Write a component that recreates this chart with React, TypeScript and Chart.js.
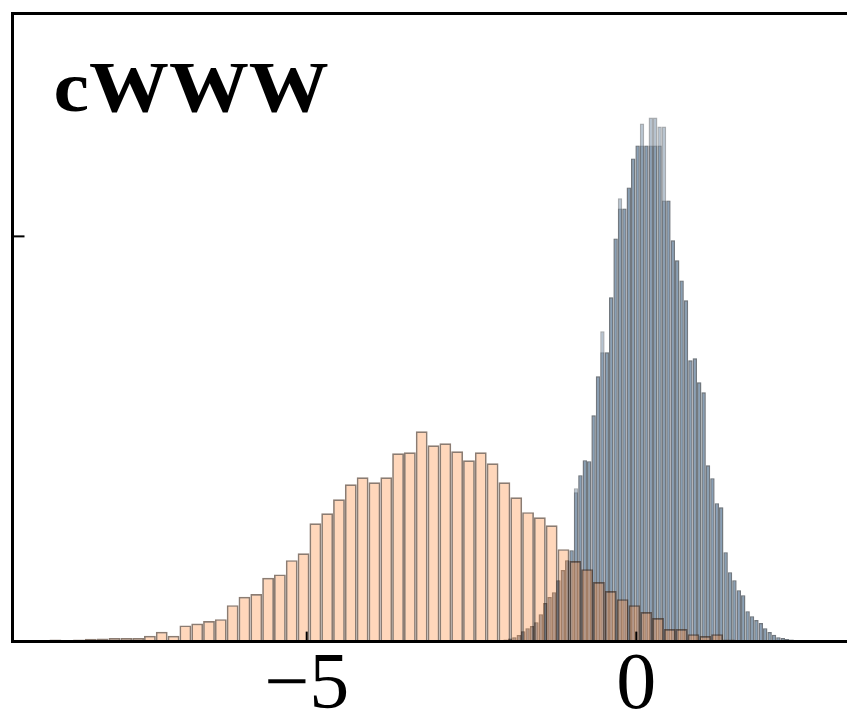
import { useEffect, useRef } from 'react';
import { Chart, registerables } from 'chart.js';

Chart.register(...registerables);

// Panel label and axis setup
const panelLabel = 'cWWW';
const xTickValues = [-5, 0];
const yTickValues = [0.5];
const xMin = -9.463;
const xMax = 3.196;
const yMax = 0.775;

// Wide distribution (density histogram)
const orangeFirstEdge = -8.902;
const orangeBinWidth = 0.17925;
const orangeDensity = [
  0.0027, 0.0018, 0.0027, 0.0035, 0.0039, 0.0043, 0.0043, 0.0043,
  0.0072, 0.0121, 0.0072, 0.02, 0.0224, 0.0253, 0.0277, 0.045,
  0.0552, 0.0586, 0.0787, 0.0829, 0.1005, 0.1091, 0.1461, 0.1584,
  0.1757, 0.1942, 0.2028, 0.1967, 0.2028, 0.2324, 0.2337, 0.2596,
  0.2423, 0.2448, 0.2349, 0.2238, 0.2337, 0.2201, 0.1967, 0.1782,
  0.1597, 0.1535, 0.1436, 0.1141, 0.0993, 0.0894, 0.0734, 0.0623,
  0.0524, 0.045, 0.0364, 0.029, 0.0154, 0.0154, 0.0092, 0.0068,
  0.0092, 0.0025,
];

// Narrow distribution, two samples on a shared binning
const blueFirstEdge = -2.083;
const blueBinWidth = 0.06675;
const blueDensityA = [
  0.0018, 0.0025, 0.0037, 0.0055, 0.008, 0.0129, 0.0166, 0.0191, 0.024,
  0.0339, 0.0475, 0.0549, 0.061, 0.0758, 0.0882, 0.1005, 0.1128,
  0.1893, 0.2053, 0.2238, 0.2226, 0.2793, 0.3274, 0.3829, 0.357, 0.4248,
  0.4975, 0.5345, 0.5345, 0.5604, 0.5962, 0.6122,
  0.6393, 0.6122, 0.6467, 0.6122, 0.6122, 0.5444,
  0.5444, 0.4951, 0.4704, 0.4457, 0.4211, 0.3471, 0.3496, 0.32, 0.3076,
  0.2176, 0.2016, 0.1708, 0.1658,
  0.1104, 0.0857, 0.0758, 0.0635, 0.0573, 0.0376, 0.0314, 0.0265, 0.0228,
  0.0166, 0.0117, 0.0086, 0.0055, 0.0043, 0.0031, 0.0025, 0.0021, 0.0018,
  0.0016, 0.0014, 0.0011, 0.001, 0.0009,
];
const blueDensityB = [
  0.0018, 0.0025, 0.0037, 0.0055, 0.008, 0.0129, 0.0166, 0.0191, 0.024,
  0.0339, 0.0475, 0.0549, 0.061, 0.0758, 0.0882, 0.1005, 0.1128,
  0.1843, 0.2053, 0.2238, 0.2226, 0.2793, 0.3274, 0.357, 0.357, 0.4248,
  0.4975, 0.5469, 0.5345, 0.5604, 0.5962, 0.6122,
  0.6122, 0.6122, 0.6122, 0.6467, 0.6356, 0.6356,
  0.5444, 0.4951, 0.4704, 0.4457, 0.4211, 0.3471, 0.3496, 0.32, 0.3076,
  0.2176, 0.2016, 0.1708, 0.1658,
  0.1104, 0.0857, 0.0758, 0.0635, 0.0573, 0.0376, 0.0314, 0.0265, 0.0228,
  0.0166, 0.0117, 0.0086, 0.0055, 0.0043, 0.0031, 0.0025, 0.0021, 0.0018,
  0.0016, 0.0014, 0.0011, 0.001, 0.0009,
];

const toBars = (firstEdge: number, width: number, values: number[]) =>
  values.map((y, i) => ({ x: firstEdge + width * (i + 0.5), y }));

const formatTick = (v: number) => (v < 0 ? '\u2212' + Math.abs(v) : String(v));

// Frame, inward tick marks and the panel label
const framePlugin = {
  id: 'frame',
  afterDatasetsDraw(chart: any) {
    const { ctx, chartArea } = chart;
    const xs = chart.scales.x;
    const ys = chart.scales.y;
    ctx.save();
    ctx.strokeStyle = '#000';
    ctx.lineCap = 'butt';

    ctx.lineWidth = 2;
    xTickValues.forEach((v) => {
      const px = xs.getPixelForValue(v);
      ctx.beginPath();
      ctx.moveTo(px, chartArea.bottom);
      ctx.lineTo(px, chartArea.bottom - 10);
      ctx.stroke();
    });
    yTickValues.forEach((v) => {
      const py = ys.getPixelForValue(v);
      ctx.beginPath();
      ctx.moveTo(chartArea.left, py);
      ctx.lineTo(chartArea.left + 12, py);
      ctx.stroke();
    });

    ctx.lineWidth = 3;
    ctx.beginPath();
    ctx.moveTo(chart.width + 2, chartArea.top);
    ctx.lineTo(chartArea.left, chartArea.top);
    ctx.lineTo(chartArea.left, chartArea.bottom);
    ctx.lineTo(chart.width + 2, chartArea.bottom);
    ctx.stroke();

    ctx.fillStyle = '#000';
    ctx.font = 'bold 72px "Liberation Serif"';
    ctx.textBaseline = 'alphabetic';
    ctx.textAlign = 'left';
    ctx.translate(chartArea.left + 41, chartArea.top + 97);
    ctx.scale(1.11, 1);
    ctx.fillText(panelLabel, 0, 0);
    ctx.restore();
  },
};

const barStyle = {
  grouped: false,
  borderSkipped: false,
  inflateAmount: 0,
  categoryPercentage: 1,
  barPercentage: 1,
};

export default function App() {
  const canvasRef = useRef<HTMLCanvasElement | null>(null);

  useEffect(() => {
    if (!canvasRef.current) return;
    const chart = new Chart(canvasRef.current, {
      type: 'bar',
      data: {
        datasets: [
          {
            ...barStyle,
            label: 'wide',
            data: toBars(orangeFirstEdge, orangeBinWidth, orangeDensity),
            xAxisID: 'x',
            backgroundColor: 'rgba(255,140,60,0.35)',
            borderColor: 'rgba(55,30,12,0.58)',
            borderWidth: 1.7,
          },
          {
            ...barStyle,
            label: 'narrow A',
            data: toBars(blueFirstEdge, blueBinWidth, blueDensityA),
            xAxisID: 'xb',
            backgroundColor: 'rgba(70,105,140,0.4)',
            borderColor: 'rgba(35,45,55,0.4)',
            borderWidth: 1.4,
          },
          {
            ...barStyle,
            label: 'narrow B',
            data: toBars(blueFirstEdge, blueBinWidth, blueDensityB),
            xAxisID: 'xb',
            backgroundColor: 'rgba(70,105,140,0.4)',
            borderColor: 'rgba(35,45,55,0.4)',
            borderWidth: 1.4,
          },
        ] as any,
      },
      options: {
        responsive: false,
        animation: false,
        devicePixelRatio: 1,
        layout: { padding: { left: 12.5, top: 13.5, right: 0, bottom: 0 } },
        datasets: { bar: { grouped: false } } as any,
        plugins: {
          legend: { display: false },
          tooltip: { enabled: false },
          title: { display: false },
        },
        scales: {
          x: {
            type: 'linear',
            min: xMin,
            max: xMax,
            offset: false,
            grid: { display: false, drawTicks: false },
            border: { display: false },
            afterBuildTicks: (axis: any) => {
              axis.ticks = xTickValues.map((value) => ({ value }));
            },
            ticks: {
              autoSkip: false,
              maxRotation: 0,
              padding: 5.2,
              color: '#000',
              font: { family: '"Liberation Serif"', size: 80, lineHeight: 1 },
              callback: (v: any) => formatTick(Number(v)),
            },
          },
          xb: {
            type: 'linear',
            display: false,
            min: xMin,
            max: xMax,
            offset: false,
          },
          y: {
            type: 'linear',
            display: false,
            min: 0,
            max: yMax,
          },
        } as any,
      },
      plugins: [framePlugin],
    });
    return () => chart.destroy();
  }, []);

  return (
    <div
      style={{
        position: 'fixed',
        left: 0,
        top: 0,
        width: 847,
        height: 713,
        overflow: 'hidden',
        background: '#fff',
      }}
    >
      <canvas ref={canvasRef} width={847} height={732} style={{ display: 'block' }} />
    </div>
  );
}
